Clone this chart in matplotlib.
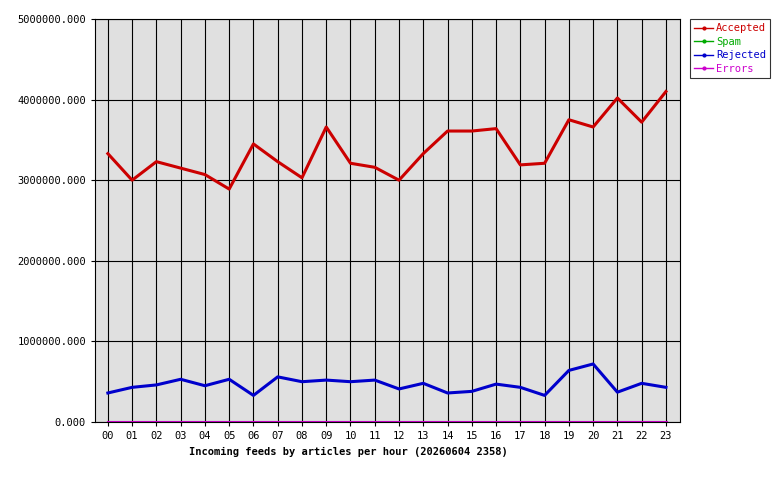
import numpy as np
import matplotlib
matplotlib.use('Agg')
import matplotlib.pyplot as plt

hours = ['%02d' % h for h in range(24)]
accepted = [3.33, 3.00, 3.23, 3.15, 3.07, 2.89, 3.45, 3.23, 3.03, 3.66, 3.21, 3.16,
            3.00, 3.33, 3.61, 3.61, 3.64, 3.19, 3.21, 3.75, 3.66, 4.02, 3.72, 4.10]
rejected = [0.36, 0.43, 0.46, 0.53, 0.45, 0.53, 0.33, 0.56, 0.50, 0.52, 0.50, 0.52,
            0.41, 0.48, 0.36, 0.38, 0.47, 0.43, 0.33, 0.64, 0.72, 0.37, 0.48, 0.43]
spam = [0.0] * 24
errors = [0.0] * 24

plt.rcParams['font.family'] = 'DejaVu Sans Mono'
plt.rcParams['font.size'] = 7.5

fig = plt.figure(figsize=(7.8, 4.8), dpi=100)
ax = fig.add_axes([95 / 780, 58 / 480, 585 / 780, 403 / 480])
ax.set_facecolor('#e0e0e0')
x = np.arange(24)
scale = 1e6
ax.plot(x, np.array(accepted) * scale, color='#cc0000', lw=2.2, label='Accepted')
ax.plot(x, np.array(spam) * scale, color='#00aa00', lw=2.2, label='Spam')
ax.plot(x, np.array(rejected) * scale, color='#0000cc', lw=2.2, label='Rejected')
ax.plot(x, np.array(errors) * scale, color='#cc00cc', lw=2.2, label='Errors')

ax.set_xlim(-0.53, 23.58)
ax.set_ylim(0, 5e6)
ax.set_xticks(x)
ax.set_xticklabels(hours)
ax.set_yticks(np.arange(0, 5.01e6, 1e6))
ax.set_yticklabels(['%.3f' % v for v in np.arange(0, 5.01e6, 1e6)])
ax.grid(True, color='black', lw=0.8)
ax.set_axisbelow(True)
ax.tick_params(length=3)
fig.text(348 / 780, 1 - 452 / 480, 'Incoming feeds by articles per hour (20260604 2358)',
         fontweight='bold', ha='center', va='center')

colors = ['#cc0000', '#00aa00', '#0000cc', '#cc00cc']
handles = [plt.Line2D([], [], color=c, lw=1, marker='o', markersize=2) for c in colors]
leg = fig.legend(handles, ['Accepted', 'Spam', 'Rejected', 'Errors'],
                 loc='upper left', bbox_to_anchor=(690 / 780, 1 - 19 / 480),
                 frameon=True, fancybox=False, edgecolor='black', handlelength=1.8,
                 borderpad=0.4, labelspacing=0.35, handletextpad=0.3, borderaxespad=0)
leg.get_frame().set_linewidth(0.8)
for t, c in zip(leg.get_texts(), colors):
    t.set_color(c)

fig.savefig('out.png', dpi=100)
